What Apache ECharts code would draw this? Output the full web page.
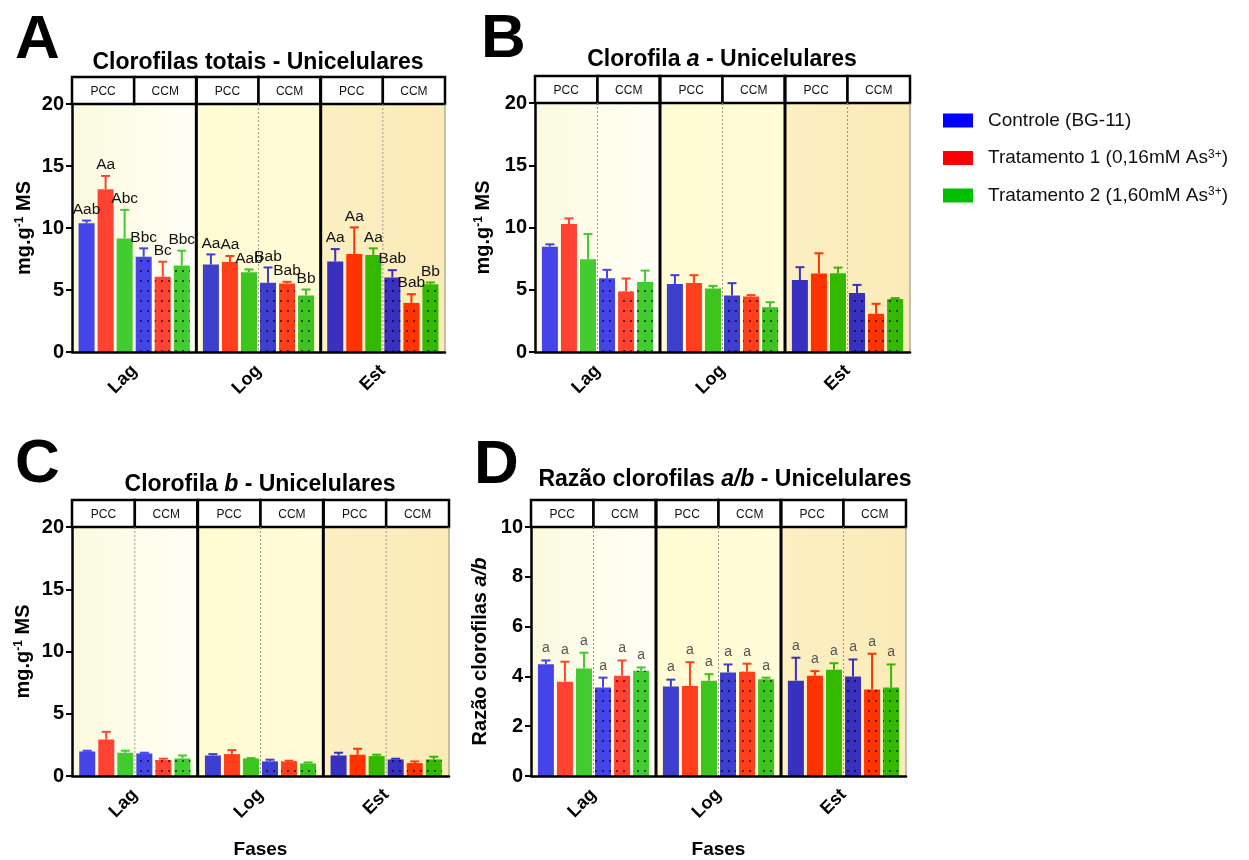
<!DOCTYPE html>
<html><head><meta charset="utf-8">
<script src="https://cdn.jsdelivr.net/npm/echarts@6/dist/echarts.min.js"></script>
<style>html,body{margin:0;padding:0;background:#fff}#c{width:1249px;height:860px}</style>
</head><body><div id="c"></div>
<script>
// ---------------- DATA ----------------
const phases = ['Lag', 'Log', 'Est'];
const strains = ['PCC', 'CCM'];
const treatments = ['Controle (BG-11)', 'Tratamento 1 (0,16mM As³⁺)', 'Tratamento 2 (1,60mM As³⁺)'];
// order of every value array: [Lag-PCC, Lag-CCM, Log-PCC, Log-CCM, Est-PCC, Est-CCM]
// A - Clorofilas totais
const totCtrl = [10.38, 7.68, 7.06, 5.58, 7.30, 6.01];
const totCtrlSd = [0.22, 0.68, 0.81, 1.24, 1.00, 0.59];
const totT1 = [13.13, 6.06, 7.25, 5.53, 7.90, 3.96];
const totT1Sd = [1.07, 1.22, 0.49, 0.13, 2.15, 0.70];
const totT2 = [9.16, 6.98, 6.44, 4.56, 7.82, 5.47];
const totT2Sd = [2.30, 1.19, 0.22, 0.48, 0.54, 0.14];
const totCtrlLbl = ['Aab', 'Bbc', 'Aa', 'Bab', 'Aa', 'Bab'];
const totT1Lbl = ['Aa', 'Bc', 'Aa', 'Bab', 'Aa', 'Bab'];
const totT2Lbl = ['Abc', 'Bbc', 'Aab', 'Bb', 'Aa', 'Bb'];
// B - Clorofila a
const chaCtrl = [8.46, 5.93, 5.47, 4.54, 5.79, 4.73];
const chaCtrlSd = [0.19, 0.67, 0.70, 0.99, 1.02, 0.66];
const chaT1 = [10.28, 4.86, 5.55, 4.46, 6.30, 3.07];
const chaT1Sd = [0.45, 1.04, 0.62, 0.11, 1.63, 0.80];
const chaT2 = [7.45, 5.63, 5.10, 3.60, 6.33, 4.25];
const chaT2Sd = [2.03, 0.91, 0.21, 0.40, 0.45, 0.08];
// C - Clorofila b
const chbCtrl = [1.97, 1.81, 1.65, 1.17, 1.65, 1.33];
const chbCtrlSd = [0.06, 0.06, 0.11, 0.14, 0.22, 0.06];
const chbT1 = [2.93, 1.28, 1.76, 1.17, 1.71, 1.04];
const chbT1Sd = [0.62, 0.11, 0.32, 0.06, 0.48, 0.13];
const chbT2 = [1.87, 1.41, 1.41, 1.01, 1.60, 1.33];
const chbT2Sd = [0.16, 0.24, 0.03, 0.08, 0.11, 0.22];
// D - Razão a/b
const ratCtrl = [4.49, 3.55, 3.59, 4.16, 3.83, 4.00];
const ratCtrlSd = [0.15, 0.40, 0.28, 0.32, 0.92, 0.68];
const ratT1 = [3.79, 4.03, 3.61, 4.19, 4.03, 3.47];
const ratT1Sd = [0.80, 0.61, 0.96, 0.32, 0.18, 1.44];
const ratT2 = [4.32, 4.23, 3.83, 3.89, 4.27, 3.55];
const ratT2Sd = [0.63, 0.13, 0.26, 0.06, 0.26, 0.93];
const ratLbl = ['a', 'a', 'a', 'a', 'a', 'a'];
const yTicksMain = [0, 20, 5];
const yTicksRatio = [0, 10, 2];

// ---------------- PANELS ----------------
const panels = [
  { letter: 'A', title: 'Clorofilas totais - Unicelulares', yname: 'mg.g{sup|-1} MS', ticks: yTicksMain,
    means: [totCtrl, totT1, totT2], sds: [totCtrlSd, totT1Sd, totT2Sd], labels: [totCtrlLbl, totT1Lbl, totT2Lbl], noMidFirst: true },
  { letter: 'B', title: 'Clorofila {i|a} - Unicelulares', yname: 'mg.g{sup|-1} MS', ticks: yTicksMain,
    means: [chaCtrl, chaT1, chaT2], sds: [chaCtrlSd, chaT1Sd, chaT2Sd], labels: null },
  { letter: 'C', title: 'Clorofila {i|b} - Unicelulares', yname: 'mg.g{sup|-1} MS', ticks: yTicksMain,
    means: [chbCtrl, chbT1, chbT2], sds: [chbCtrlSd, chbT1Sd, chbT2Sd], labels: null, xname: 'Fases' },
  { letter: 'D', title: 'Razão clorofilas {i|a/b} - Unicelulares', yname: 'Razão clorofilas {i|a/b}', ticks: yTicksRatio,
    means: [ratCtrl, ratT1, ratT2], sds: [ratCtrlSd, ratT1Sd, ratT2Sd], labels: [ratLbl, ratLbl, ratLbl], xname: 'Fases', small: true }
];

// ---------------- STYLE / LAYOUT ----------------
const FONT = "'Liberation Sans', Arial, sans-serif";
const layout = [
  { left: 72, top: 104, width: 373, height: 248, tx: 258, ty: 51, lx: 15, ly: 10, gap: 38 },
  { left: 535, top: 103, width: 375, height: 249, tx: 722, ty: 48, lx: 481, ly: 9, gap: 42 },
  { left: 72, top: 527, width: 377, height: 250, tx: 260, ty: 473, lx: 15, ly: 434, gap: 39 },
  { left: 531, top: 527, width: 375, height: 250, tx: 725, ty: 468, lx: 474, ly: 435, gap: 41 }
];
const HEADER_H = 27;
const BAR_W = 16, BAR_GAP = 0.19;
const barColors = [
  ['#4444e8', '#3e3ecf', '#3a30c0'],
  ['#ff4232', '#ff3e1c', '#ff3300'],
  ['#42cc32', '#3ec41e', '#33ba00']
];
const legendColors = ['#0000ff', '#ff0000', '#00c000'];
const bgColors = [['#fbfadf', '#fffff6'], ['#fffbd2', '#fffcd8'], ['#fcefc2', '#fbebb8']];
const dotDecal = { symbol: 'rect', symbolSize: 1, color: 'rgba(0,0,0,0.6)', dashArrayX: [1.5, 5], dashArrayY: [1.5, 8], rotation: 0 };

const grids = [], xAxes = [], yAxes = [], series = [], titles = [];

panels.forEach((P, p) => {
  const L = layout[p];
  grids.push({ left: L.left, top: L.top, width: L.width, height: L.height });
  xAxes.push({
    type: 'category', gridIndex: p, data: phases, z: 6,
    axisLine: { lineStyle: { color: '#000', width: 2.5 } },
    axisTick: { alignWithLabel: true, length: 7, lineStyle: { color: '#000', width: 2 } },
    axisLabel: { rotate: 45, margin: 16, color: '#000', fontSize: 18, fontWeight: 'bold', fontFamily: FONT },
    name: P.xname || '', nameLocation: 'middle', nameGap: 64,
    nameTextStyle: { color: '#000', fontSize: 19, fontWeight: 'bold', fontFamily: FONT },
    splitLine: { show: false }
  });
  yAxes.push({
    type: 'value', gridIndex: p, min: P.ticks[0], max: P.ticks[1], interval: P.ticks[2], z: 6,
    axisLine: { show: true, lineStyle: { color: '#000', width: 2.5 } },
    axisTick: { show: true, length: 6, lineStyle: { color: '#000', width: 2 } },
    axisLabel: { margin: 8, color: '#000', fontSize: 20, fontWeight: 'bold', fontFamily: FONT },
    splitLine: { show: false },
    name: P.yname, nameLocation: 'middle', nameGap: L.gap, nameRotate: 90,
    nameTextStyle: { color: '#000', fontSize: 20, fontWeight: 'bold', fontFamily: FONT,
      rich: { sup: { fontSize: 12, fontWeight: 'bold', fontFamily: FONT, verticalAlign: 'top', color: '#000' },
              i: { fontSize: 20, fontWeight: 'bold', fontStyle: 'italic', fontFamily: FONT, color: '#000' } } }
  });
  titles.push({
    text: P.title, left: L.tx, top: L.ty, textAlign: 'center', padding: 0,
    textStyle: { fontSize: 23, fontWeight: 'bold', color: '#000', fontFamily: FONT,
      rich: { i: { fontSize: 23, fontWeight: 'bold', fontStyle: 'italic', color: '#000', fontFamily: FONT } } }
  });
  titles.push({
    text: P.letter, left: L.lx, top: L.ly, padding: 0,
    textStyle: { fontSize: 62, fontWeight: 900, color: '#000', fontFamily: FONT }
  });

  // backgrounds per phase
  series.push({
    type: 'custom', xAxisIndex: p, yAxisIndex: p, z: 1, silent: true,
    data: phases.map((_, i) => [i, 0]),
    renderItem: (params, api) => {
      const i = api.value(0);
      const band = api.size([1, 0])[0];
      const cx = api.coord([i, 0])[0];
      const cs = params.coordSys;
      return { type: 'rect', shape: { x: cx - band / 2, y: cs.y, width: band, height: cs.height },
        style: { fill: new echarts.graphic.LinearGradient(0, 0, 1, 0, [{ offset: 0, color: bgColors[i][0] }, { offset: 1, color: bgColors[i][1] }]) } };
    }
  });

  // bars: one series per strain x treatment
  strains.forEach((s, si) => {
    treatments.forEach((tn, t) => {
      series.push({
        type: 'bar', name: tn, xAxisIndex: p, yAxisIndex: p, z: 2,
        barWidth: BAR_W, barGap: (BAR_GAP * 100) + '%',
        itemStyle: si === 1 ? { decal: dotDecal } : {},
        data: phases.map((ph, i) => ({
          value: P.means[t][i * 2 + si],
          itemStyle: Object.assign({ color: barColors[t][i] }, si === 1 ? { decal: dotDecal } : {})
        }))
      });
    });
  });

  // error bars + letters
  const errData = [], errMeta = [];
  phases.forEach((ph, i) => {
    strains.forEach((s, si) => {
      treatments.forEach((tn, t) => {
        errData.push([i, P.means[t][i * 2 + si], P.sds[t][i * 2 + si], si * 3 + t, t]);
        errMeta.push(P.labels ? P.labels[t][i * 2 + si] : '');
      });
    });
  });
  series.push({
    type: 'custom', xAxisIndex: p, yAxisIndex: p, z: 3, silent: true,
    data: errData,
    renderItem: (params, api) => {
      const i = api.value(0), m = api.value(1), sd = api.value(2), k = api.value(3), t = api.value(4);
      const total = 6 * BAR_W + 5 * BAR_W * BAR_GAP;
      const x = api.coord([i, 0])[0] - total / 2 + k * BAR_W * (1 + BAR_GAP) + BAR_W / 2;
      const y0 = api.coord([i, m])[1];
      const y1 = api.coord([i, m + sd])[1];
      const col = barColors[t][i];
      const children = [
        { type: 'line', shape: { x1: x, y1: y0, x2: x, y2: y1 }, style: { stroke: col, lineWidth: 2 } },
        { type: 'line', shape: { x1: x - 4.5, y1: y1, x2: x + 4.5, y2: y1 }, style: { stroke: col, lineWidth: 2 } }
      ];
      const lbl = errMeta[params.dataIndex];
      if (lbl) {
        children.push({ type: 'text', style: { text: lbl, x: x, y: y1 - (P.small ? 5 : 3), align: 'center', verticalAlign: 'bottom',
          font: (P.small ? '14px ' : '15.5px ') + FONT, fill: P.small ? '#555' : '#111' } });
      }
      return { type: 'group', children };
    }
  });

  // structure: header boxes, separators
  series.push({
    type: 'custom', xAxisIndex: p, yAxisIndex: p, z: 4, silent: true, clip: false,
    data: phases.map((_, i) => [i, 0]),
    renderItem: (params, api) => {
      const i = api.value(0);
      const band = api.size([1, 0])[0];
      const cx = api.coord([i, 0])[0];
      const cs = params.coordSys;
      const x0 = cx - band / 2, yh = cs.y - HEADER_H;
      const ch = [
        { type: 'rect', shape: { x: x0, y: yh, width: band / 2, height: HEADER_H }, style: { fill: '#fff', stroke: '#000', lineWidth: 2.5 } },
        { type: 'rect', shape: { x: cx, y: yh, width: band / 2, height: HEADER_H }, style: { fill: '#fff', stroke: '#000', lineWidth: 2.5 } },
        { type: 'text', style: { text: strains[0], x: x0 + band / 4, y: yh + HEADER_H / 2 + 1, align: 'center', verticalAlign: 'middle', font: '12px ' + FONT, fill: '#111' } },
        { type: 'text', style: { text: strains[1], x: cx + band / 4, y: yh + HEADER_H / 2 + 1, align: 'center', verticalAlign: 'middle', font: '12px ' + FONT, fill: '#111' } }
      ];
      if (!(P.noMidFirst && i === 0)) {
        ch.push({ type: 'line', shape: { x1: cx, y1: cs.y, x2: cx, y2: cs.y + cs.height }, style: { stroke: '#9a9a8a', lineWidth: 1, lineDash: [2, 2] } });
      }
      if (i > 0) {
        ch.push({ type: 'line', shape: { x1: x0, y1: yh, x2: x0, y2: cs.y + cs.height }, style: { stroke: '#000', lineWidth: 3 } });
      }
      if (i === phases.length - 1) {
        ch.push({ type: 'line', shape: { x1: x0 + band, y1: cs.y, x2: x0 + band, y2: cs.y + cs.height }, style: { stroke: '#8a8a7a', lineWidth: 1 } });
      }
      return { type: 'group', children: ch };
    }
  });
});

const chart = echarts.init(document.getElementById('c'), null, { renderer: 'canvas' });
chart.setOption({
  animation: false,
  backgroundColor: '#fff',
  title: titles,
  grid: grids,
  xAxis: xAxes,
  yAxis: yAxes,
  legend: {
    orient: 'vertical', left: 943, top: 111, padding: 0,
    itemWidth: 30, itemHeight: 14, itemGap: 18.5, selectedMode: false,
    data: treatments.map((n, t) => ({ name: n, icon: 'rect', itemStyle: { color: legendColors[t], decal: 'none' } })),
    formatter: n => n.replace('³⁺', '{sup|3+}'),
    textStyle: { fontSize: 19, color: '#111', fontFamily: FONT, padding: [0, 0, 0, 10],
      rich: { sup: { fontSize: 12, fontFamily: FONT, color: '#111', verticalAlign: 'top' } } }
  },
  series
});
</script></body></html>
